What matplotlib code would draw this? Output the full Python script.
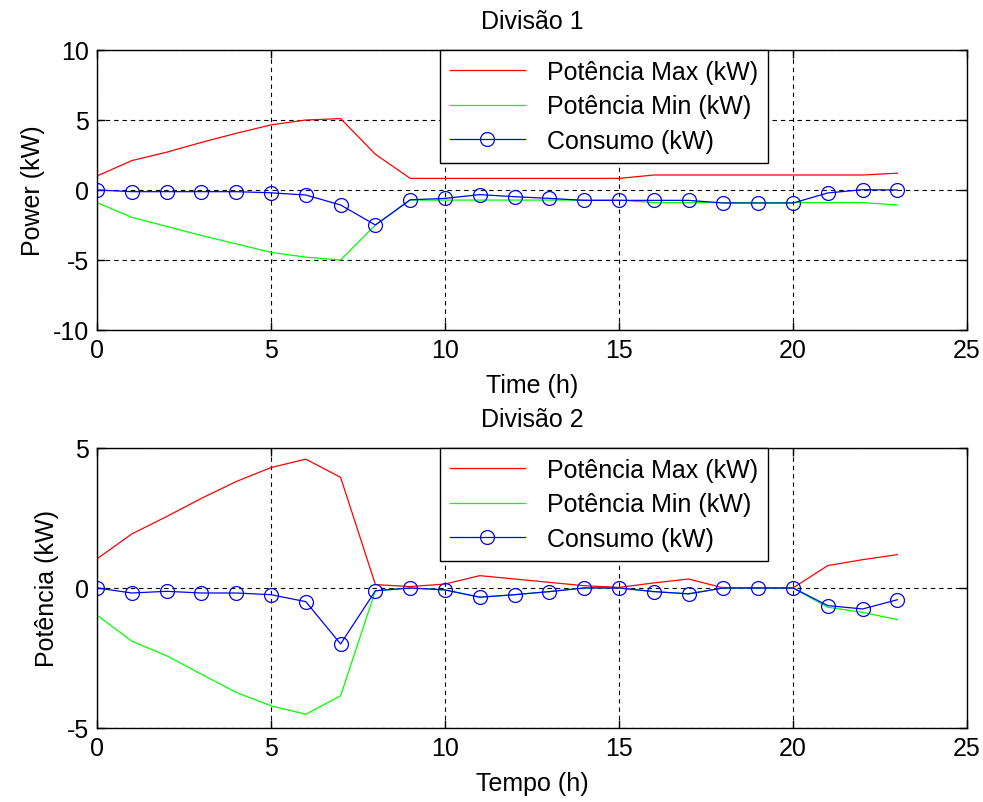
import matplotlib.pyplot as plt

plt.rcParams.update({
    "font.family": ["Liberation Sans", "DejaVu Sans"],
    "font.size": 18,
    "axes.linewidth": 1.0,
    "axes.unicode_minus": False,
})

horas = list(range(24))

# Divisão 1
max_d1 = [1.0, 2.1, 2.7, 3.4, 4.05, 4.65, 5.0, 5.1, 2.55, 0.83, 0.83, 0.83,
          0.83, 0.83, 0.83, 0.83, 1.07, 1.07, 1.07, 1.07, 1.07, 1.07, 1.07, 1.2]
min_d1 = [-0.9, -1.95, -2.6, -3.25, -3.85, -4.45, -4.8, -5.0, -2.5, -0.72, -0.72, -0.72,
          -0.72, -0.72, -0.72, -0.72, -0.9, -0.9, -0.9, -0.9, -0.9, -0.9, -0.9, -1.07]
cons_d1 = [0.0, -0.12, -0.12, -0.12, -0.12, -0.2, -0.36, -1.07, -2.5, -0.7, -0.6, -0.33,
           -0.48, -0.6, -0.74, -0.74, -0.74, -0.74, -0.93, -0.93, -0.93, -0.21, 0.02, 0.0]

# Divisão 2
max_d2 = [1.04, 1.93, 2.55, 3.2, 3.8, 4.3, 4.6, 3.95, 0.12, 0.05, 0.14, 0.44,
          0.32, 0.2, 0.08, 0.02, 0.18, 0.32, 0.0, 0.0, 0.0, 0.8, 1.01, 1.19]
min_d2 = [-0.97, -1.9, -2.42, -3.08, -3.73, -4.21, -4.51, -3.85, -0.1, 0.0, -0.07, -0.33,
          -0.24, -0.13, 0.0, 0.0, -0.13, -0.21, 0.0, 0.0, 0.0, -0.69, -0.87, -1.13]
cons_d2 = [0.0, -0.18, -0.12, -0.18, -0.18, -0.24, -0.49, -2.0, -0.1, 0.0, -0.07, -0.33,
           -0.24, -0.13, 0.0, 0.0, -0.13, -0.21, 0.0, 0.0, 0.0, -0.63, -0.75, -0.42]

legenda = ["Potência Max (kW)", "Potência Min (kW)", "Consumo (kW)"]

fig = plt.figure(figsize=(9.83, 8.03), dpi=100)
ax1 = fig.add_axes([0.0987, 0.5878, 0.885, 0.3487])
ax2 = fig.add_axes([0.0987, 0.0922, 0.885, 0.3487])


def painel(ax, pmax, pmin, cons, titulo, xlab, ylab, ylim, yticks):
    ax.plot(horas, pmax, color="#ff0000", lw=0.9, label=legenda[0])
    ax.plot(horas, pmin, color="#00ff00", lw=0.9, label=legenda[1])
    ax.plot(horas, cons, color="#0000ff", lw=0.9, marker="o", ms=10,
            mfc="none", mec="#0000ff", mew=0.9, label=legenda[2])
    ax.set_xlim(0, 25)
    ax.set_ylim(*ylim)
    ax.set_xticks([0, 5, 10, 15, 20, 25])
    ax.set_yticks(yticks)
    ax.grid(True, color="black", lw=0.8, linestyle=(0, (4, 3.5)))
    ax.tick_params(direction="in", length=6, width=1.0, top=True, right=True,
                   labelsize=18, pad=6)
    ax.set_title(titulo, fontsize=18, pad=16)
    ax.set_xlabel(xlab, fontsize=18, labelpad=8)
    ax.set_ylabel(ylab, fontsize=18, labelpad=5)
    leg = ax.legend(loc="upper left", bbox_to_anchor=(0.394, 1.0), numpoints=1,
                    fancybox=False, framealpha=1, edgecolor="black",
                    handlelength=3.0, handletextpad=0.9, labelspacing=0.42,
                    borderpad=0.4, borderaxespad=0, fontsize=18)
    leg.get_frame().set_linewidth(1.0)


painel(ax1, max_d1, min_d1, cons_d1, "Divisão 1", "Time (h)", "Power (kW)",
       (-10, 10), [-10, -5, 0, 5, 10])
painel(ax2, max_d2, min_d2, cons_d2, "Divisão 2", "Tempo (h)", "Potência (kW)",
       (-5, 5), [-5, 0, 5])

fig.savefig("out.png", dpi=100)
